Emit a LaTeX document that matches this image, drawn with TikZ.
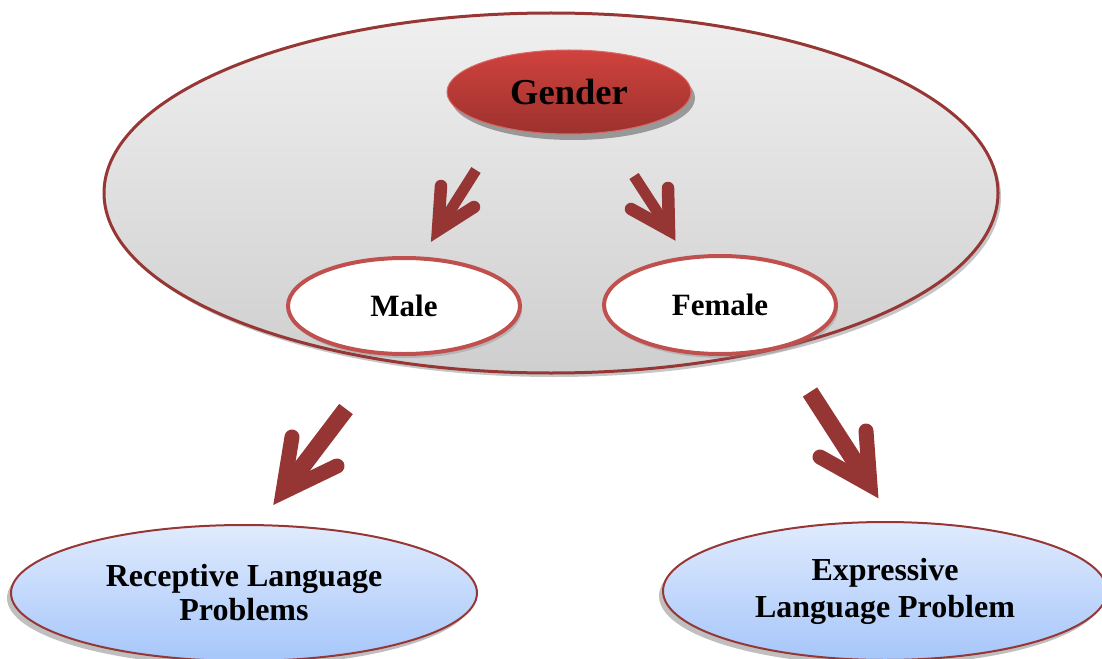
\documentclass[tikz,border=0pt]{standalone}
\usepackage{fontspec}
\setmainfont{Liberation Serif}
\usetikzlibrary{shapes.geometric,shadows,calc}

\begin{document}
\begin{tikzpicture}
[x=1pt,y=-1pt,line cap=round,
% Styles
bubble/.style={ellipse,inner sep=0pt,align=center,font=\bfseries},
outer bubble/.style={bubble,draw=framered,line width=3pt,
  top color=gray!12,bottom color=gray!38,
  drop shadow={shadow xshift=3pt,shadow yshift=-4pt,opacity=.45,fill=gray}},
head bubble/.style={bubble,draw=headred!80!white,line width=1pt,
  top color=headred,bottom color=headred!75!black,
  drop shadow={shadow xshift=4pt,shadow yshift=-6pt,opacity=.6,fill=gray!80!black}},
group bubble/.style={bubble,draw=ringred,line width=4pt,fill=white,
  drop shadow={shadow xshift=2pt,shadow yshift=-4pt,opacity=.35,fill=gray}},
result bubble/.style={bubble,draw=framered,line width=2pt,
  top color=skyblue!35!white,bottom color=skyblue,
  drop shadow={shadow xshift=-4pt,shadow yshift=-5pt,opacity=.5,fill=gray}},
arrow shaft/.style={draw=arrowred,line cap=butt},
arrow barb/.style={draw=arrowred,line cap=round,line join=miter}]
% Colors
\definecolor{framered}{RGB}{150,55,53}
\definecolor{headred}{RGB}{208,66,61}
\definecolor{ringred}{RGB}{192,80,77}
\definecolor{arrowred}{RGB}{150,54,52}
\definecolor{skyblue}{RGB}{166,198,250}

\useasboundingbox (0,0) rectangle (1102,658);
\clip (0,0) rectangle (1102,658);

% The ellipses
\node[outer bubble,minimum width=894pt,minimum height=360pt] (frame) at (551,193) {};
\node[head bubble,minimum width=244pt,minimum height=84pt,
  font=\bfseries\fontsize{36.5}{40}\selectfont] (gender) at (569,92) {Gender};
\node[group bubble,minimum width=232pt,minimum height=96pt,
  font=\bfseries\fontsize{31}{34}\selectfont] (male) at (404,306) {Male};
\node[group bubble,minimum width=232pt,minimum height=98pt,
  font=\bfseries\fontsize{31}{34}\selectfont] (female) at (720,305) {Female};
\node[result bubble,minimum width=466pt,minimum height=136pt,
  font=\bfseries\fontsize{32}{34}\selectfont] (receptive) at (244,593)
  {Receptive Language\\Problems};
\node[result bubble,minimum width=444pt,minimum height=138pt,
  font=\bfseries\fontsize{32}{37}\selectfont] (expressive) at (885,591)
  {Expressive\\Language Problem};

% The arrows
\coordinate (m-start) at (476,170);
\coordinate (m-tip) at (438,230);
\coordinate (m-barba) at (441,186);
\coordinate (m-barbb) at (474,207);
\coordinate (f-start) at (634,176);
\coordinate (f-tip) at (669,230);
\coordinate (f-barba) at (668,188);
\coordinate (f-barbb) at (631,209);
\coordinate (r-start) at (346,409);
\coordinate (r-tip) at (283,492);
\coordinate (r-barba) at (292,437);
\coordinate (r-barbb) at (337,466);
\coordinate (e-start) at (810,392);
\coordinate (e-tip) at (870,485);
\coordinate (e-barba) at (866,431);
\coordinate (e-barbb) at (820,457);

\foreach \a/\w/\b in {m/11/12.5, f/11/12.5, r/17/15, e/17/15}
{
\draw[arrow shaft,line width=\w pt] (\a-start) -- ($(\a-start)!0.93!(\a-tip)$);
\draw[arrow barb,line width=\b pt] (\a-barba) -- (\a-tip) -- (\a-barbb);
}
\end{tikzpicture}
\end{document}
